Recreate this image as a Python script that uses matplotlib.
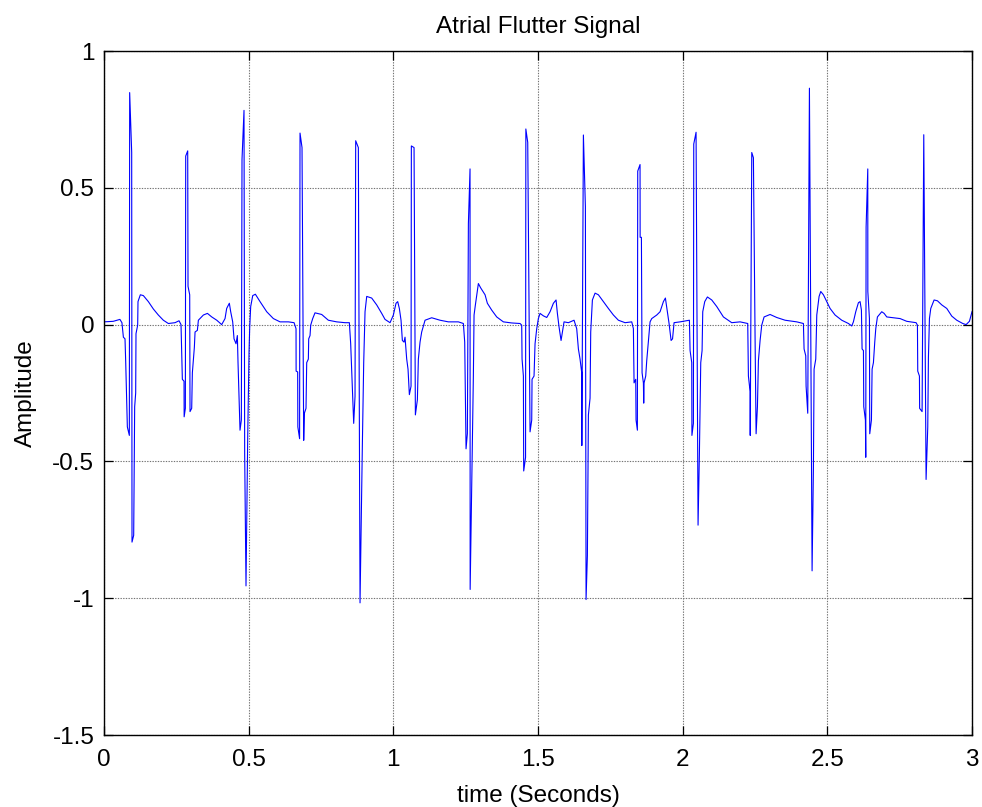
import matplotlib
matplotlib.use("Agg")
import matplotlib.pyplot as plt
import numpy as np

# samples (seconds, amplitude)
time_s = [
    0.000, 0.032, 0.055, 0.062, 0.067, 0.0726, 0.0749, 0.0807, 0.0876, 0.0887,
    0.0957, 0.0968, 0.1026, 0.1060, 0.1095, 0.1106, 0.1164, 0.1175, 0.1256, 0.1360,
    0.1533, 0.1706, 0.1878, 0.2051, 0.2224, 0.2455, 0.2593, 0.2662, 0.2708, 0.2766,
    0.2770, 0.2812, 0.2824, 0.2893, 0.2904, 0.2962, 0.2973, 0.3031, 0.3054, 0.3123,
    0.3147, 0.3227, 0.3262, 0.3435, 0.3574, 0.3724, 0.3897, 0.4068, 0.4183, 0.4240,
    0.4332, 0.4379, 0.4448, 0.4494, 0.4563, 0.4609, 0.4632, 0.4701, 0.4747, 0.4770,
    0.4839, 0.4862, 0.4908, 0.4967, 0.5013, 0.5036, 0.5070, 0.5140, 0.5232, 0.5393,
    0.5624, 0.5854, 0.6085, 0.6373, 0.6569, 0.6637, 0.6640, 0.6694, 0.6700, 0.6760,
    0.6775, 0.6844, 0.6902, 0.6925, 0.6982, 0.7006, 0.7063, 0.7075, 0.7121, 0.7144,
    0.7213, 0.7293, 0.7524, 0.7754, 0.8043, 0.8330, 0.8480, 0.8526, 0.8573, 0.8630,
    0.8676, 0.8699, 0.8791, 0.8849, 0.8930, 0.8976, 0.9022, 0.9080, 0.9252, 0.9425,
    0.9598, 0.9713, 0.9886, 1.0001, 1.0093, 1.0151, 1.0208, 1.0266, 1.0312, 1.0370,
    1.0404, 1.0462, 1.0508, 1.0554, 1.0612, 1.0623, 1.0716, 1.0762, 1.0831, 1.0865,
    1.0923, 1.0980, 1.1096, 1.1326, 1.1614, 1.1902, 1.2248, 1.2421, 1.2467, 1.2513,
    1.2559, 1.2594, 1.2651, 1.2655, 1.2709, 1.2766, 1.2790, 1.2836, 1.2939, 1.3020,
    1.3170, 1.3250, 1.3400, 1.3573, 1.3803, 1.4092, 1.4380, 1.4437, 1.4449, 1.4495,
    1.4506, 1.4570, 1.4580, 1.4645, 1.4725, 1.4783, 1.4794, 1.4863, 1.4898, 1.4956,
    1.5013, 1.5071, 1.5186, 1.5302, 1.5417, 1.5532, 1.5624, 1.5670, 1.5728, 1.5797,
    1.5854, 1.5900, 1.6050, 1.6246, 1.6338, 1.6396, 1.6453, 1.6511, 1.6515, 1.6569,
    1.6638, 1.6661, 1.6707, 1.6742, 1.6799, 1.6822, 1.6880, 1.6972, 1.7087, 1.7260,
    1.7433, 1.7606, 1.7778, 1.8009, 1.8240, 1.8297, 1.8320, 1.8378, 1.8389, 1.8435,
    1.8447, 1.8527, 1.8530, 1.8574, 1.8597, 1.8643, 1.8654, 1.8666, 1.8723, 1.8758,
    1.8816, 1.8873, 1.8931, 1.9104, 1.9219, 1.9334, 1.9403, 1.9472, 1.9530, 1.9600,
    1.9650, 1.9703, 1.9910, 2.0233, 2.0256, 2.0314, 2.0320, 2.0371, 2.0383, 2.0463,
    2.0532, 2.0578, 2.0625, 2.0671, 2.0694, 2.0763, 2.0855, 2.1005, 2.1178, 2.1408,
    2.1696, 2.1984, 2.2249, 2.2272, 2.2330, 2.2335, 2.2388, 2.2445, 2.2503, 2.2538,
    2.2584, 2.2618, 2.2676, 2.2733, 2.2814, 2.3021, 2.3251, 2.3540, 2.3943, 2.4173,
    2.4196, 2.4254, 2.4266, 2.4323, 2.4381, 2.4473, 2.4519, 2.4542, 2.4600, 2.4635,
    2.4715, 2.4773, 2.4865, 2.4980, 2.5095, 2.5268, 2.5498, 2.5729, 2.5844, 2.5901,
    2.5982, 2.6074, 2.6132, 2.6178, 2.6201, 2.6248, 2.6259, 2.6316, 2.6328, 2.6340,
    2.6398, 2.6400, 2.6455, 2.6466, 2.6524, 2.6547, 2.6593, 2.6639, 2.6674, 2.6731,
    2.6800, 2.6881, 2.6962, 2.7054, 2.7284, 2.7515, 2.7745, 2.8068, 2.8114, 2.8125,
    2.8183, 2.8190, 2.8275, 2.8333, 2.8413, 2.8471, 2.8494, 2.8529, 2.8575, 2.8690,
    2.8805, 2.8955, 2.9128, 2.9301, 2.9473, 2.9681, 2.9796, 2.9911, 3.0000,
]
amplitude = [
    0.010, 0.012, 0.019, 0.007, -0.046, -0.052, -0.132, -0.374, -0.405, 0.848,
    0.629, -0.795, -0.770, -0.300, -0.250, -0.033, -0.002, 0.084, 0.109, 0.106,
    0.084, 0.057, 0.035, 0.016, 0.004, 0.007, 0.014, 0.000, -0.200, -0.207,
    -0.337, -0.306, 0.616, 0.635, 0.140, 0.109, -0.318, -0.306, -0.176, -0.083,
    -0.027, -0.021, 0.016, 0.035, 0.041, 0.028, 0.016, 0.000, 0.022, 0.059,
    0.078, 0.047, 0.010, -0.052, -0.070, -0.040, -0.139, -0.386, -0.349, 0.604,
    0.783, -0.473, -0.955, -0.410, -0.100, -0.010, 0.066, 0.106, 0.111, 0.084,
    0.047, 0.022, 0.010, 0.010, 0.007, -0.015, -0.170, -0.173, -0.374, -0.417,
    0.700, 0.647, -0.423, -0.324, -0.306, -0.139, -0.126, -0.052, -0.040, -0.002,
    0.022, 0.043, 0.037, 0.016, 0.010, 0.007, 0.007, -0.070, -0.200, -0.361,
    -0.262, 0.672, 0.647, -1.017, -0.436, -0.139, 0.047, 0.103, 0.097, 0.072,
    0.041, 0.019, 0.007, 0.035, 0.078, 0.084, 0.059, 0.016, -0.058, -0.064,
    -0.046, -0.126, -0.163, -0.256, -0.225, 0.653, 0.647, -0.330, -0.275, -0.126,
    -0.064, -0.027, 0.016, 0.025, 0.016, 0.010, 0.010, 0.004, -0.064, -0.454,
    -0.398, 0.369, 0.569, -0.968, -0.597, -0.188, 0.035, 0.072, 0.150, 0.134,
    0.109, 0.078, 0.053, 0.028, 0.010, 0.006, 0.004, -0.002, -0.126, -0.188,
    -0.535, -0.485, 0.715, 0.666, -0.392, -0.349, -0.200, -0.188, -0.070, -0.015,
    0.022, 0.041, 0.032, 0.026, 0.047, 0.078, 0.090, 0.041, -0.009, -0.058,
    -0.021, 0.010, 0.007, 0.016, -0.015, -0.089, -0.126, -0.176, -0.442, 0.693,
    0.431, -1.005, -0.844, -0.330, -0.269, -0.027, 0.090, 0.115, 0.109, 0.084,
    0.059, 0.035, 0.016, 0.007, 0.010, -0.015, -0.213, -0.200, -0.349, -0.386,
    0.561, 0.585, 0.319, 0.319, -0.176, -0.213, -0.287, -0.213, -0.188, -0.132,
    -0.058, 0.010, 0.022, 0.035, 0.047, 0.084, 0.097, 0.047, 0.004, -0.058,
    -0.052, 0.007, 0.010, 0.016, -0.095, -0.139, -0.405, -0.361, 0.660, 0.703,
    -0.733, -0.473, -0.139, -0.095, 0.047, 0.084, 0.101, 0.090, 0.066, 0.028,
    0.007, 0.010, 0.004, -0.188, -0.244, -0.405, 0.629, 0.610, -0.052, -0.399,
    -0.300, -0.132, -0.058, -0.002, 0.028, 0.037, 0.026, 0.016, 0.010, 0.004,
    -0.089, -0.114, -0.225, -0.324, 0.864, -0.900, -0.522, -0.163, -0.126, 0.035,
    0.103, 0.121, 0.109, 0.084, 0.059, 0.035, 0.016, 0.004, -0.005, 0.010,
    0.047, 0.080, 0.084, 0.053, -0.089, -0.095, -0.300, -0.349, -0.485, 0.356,
    0.569, 0.121, 0.022, -0.399, -0.349, -0.163, -0.139, -0.064, -0.015, 0.028,
    0.037, 0.047, 0.041, 0.028, 0.025, 0.022, 0.012, 0.007, -0.002, -0.170,
    -0.188, -0.306, -0.318, 0.694, -0.566, -0.374, -0.120, 0.022, 0.059, 0.090,
    0.087, 0.072, 0.059, 0.031, 0.016, 0.004, 0.000, 0.012, 0.047,
]

x_ticks = [0, 0.5, 1, 1.5, 2, 2.5, 3]
x_ticklabels = ["0", "0.5", "1", "1.5", "2", "2.5", "3"]
y_ticks = [-1.5, -1, -0.5, 0, 0.5, 1]
y_ticklabels = ["-1.5", "-1", "-0.5", "0", "0.5", "1"]

plt.rcParams["font.family"] = ["Liberation Sans", "DejaVu Sans"]
plt.rcParams["axes.unicode_minus"] = False

fig = plt.figure(figsize=(9.82, 8.07), dpi=100)
ax = fig.add_axes([104 / 982, 1 - 735 / 807, 868 / 982, 684 / 807])

ax.plot(time_s, amplitude, color="#0000ff", linewidth=0.8)

ax.set_xlim(0, 3)
ax.set_ylim(-1.5, 1)
ax.set_xticks(x_ticks)
ax.set_xticklabels(x_ticklabels)
ax.set_yticks(y_ticks)
ax.set_yticklabels(y_ticklabels)

ax.grid(True, color="0.45", linestyle=(0, (1.2, 1.2)), linewidth=0.8)
ax.tick_params(direction="in", top=True, right=True, length=6.5, width=0.9,
               labelsize=17.5, pad=7)
ax.tick_params(axis="x", pad=10)
for s in ax.spines.values():
    s.set_linewidth(1.0)

ax.set_title("Atrial Flutter Signal", fontsize=17.5, pad=13)
ax.set_xlabel("time (Seconds)", fontsize=17.5, labelpad=10)
ax.set_ylabel("Amplitude", fontsize=17.5, labelpad=11)

fig.savefig("out.png", dpi=100)
